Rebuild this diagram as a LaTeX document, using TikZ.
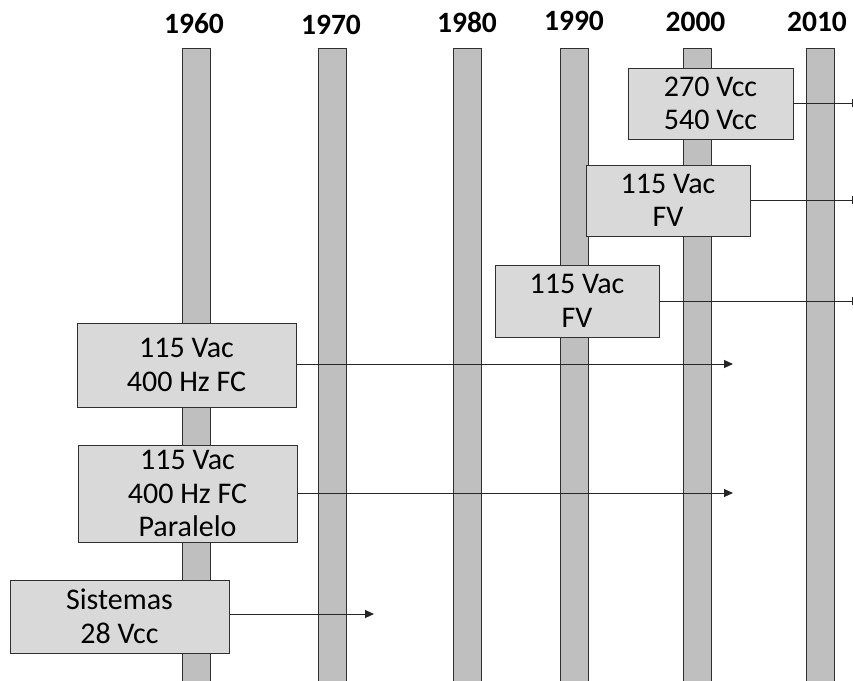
\documentclass[tikz,border=0pt]{standalone}
\usepackage{fontspec}
\setmainfont{Carlito}
\usetikzlibrary{arrows.meta}
\definecolor{barfill}{HTML}{BFBFBF}
\definecolor{boxfill}{HTML}{D9D9D9}
\definecolor{edge}{HTML}{303030}
\tikzset{
  yearbar/.style={draw=edge, line width=1pt, fill=barfill, anchor=north,
    minimum width=28pt, minimum height=680pt, inner sep=0pt},
  yearlabel/.style={anchor=base, inner sep=0pt, font=\fontsize{29.5}{31}\selectfont\bfseries},
  era/.style={draw=edge, line width=1pt, fill=boxfill, inner sep=0pt, align=center,
    font=\fontsize{30}{33.5}\selectfont},
  flow/.style={draw=black!85, line width=1pt, -{Triangle[length=9pt,width=8pt]}}
}
\begin{document}
\begin{tikzpicture}[x=1pt,y=-1pt]
  \clip (0,0) rectangle (853,680);
  \fill[white] (0,0) rectangle (853,680);

  % decade columns
  \node[yearbar] (b1960) at (196.5,48) {};
  \node[yearbar] (b1970) at (332.5,48) {};
  \node[yearbar] (b1980) at (467.5,48) {};
  \node[yearbar] (b1990) at (574,48) {};
  \node[yearbar] (b2000) at (697.5,48) {};
  \node[yearbar] (b2010) at (820,48) {};

  % decade labels
  \node[yearlabel] (y1960) at (194,33) {1960};
  \node[yearlabel] (y1970) at (331,34) {1970};
  \node[yearlabel] (y1980) at (467,32) {1980};
  \node[yearlabel] (y1990) at (574,30) {1990};
  \node[yearlabel] (y2000) at (695.5,31) {2000};
  \node[yearlabel] (y2010) at (817,31) {2010};

  % power system generations
  \node[era, minimum width=165pt, minimum height=71pt] (dc) at (710.5,103.5) {270 Vcc\\540 Vcc};
  \node[era, minimum width=164pt, minimum height=71pt] (vfB) at (668,200.5) {115 Vac\\FV};
  \node[era, minimum width=164pt, minimum height=72pt] (vfA) at (577,301) {115 Vac\\FV};
  \node[era, minimum width=219pt, minimum height=84pt] (cf) at (186.5,365) {115 Vac\\400 Hz FC};
  \node[era, minimum width=219pt, minimum height=97pt] (cfp) at (187.5,493.5) {115 Vac\\400 Hz FC\\Paralelo};
  \node[era, minimum width=219pt, minimum height=73pt] (dc28) at (119.5,616.5) {Sistemas\\28 Vcc};

  % end points of the time spans
  \coordinate (eDC) at (861,103);
  \coordinate (eVFB) at (861,200);
  \coordinate (eVFA) at (861,301);
  \coordinate (eCF) at (733,364);
  \coordinate (eCFP) at (733,493);
  \coordinate (eDC28) at (374,614);

  \draw[flow] (dc.east |- eDC) -- (eDC);
  \draw[flow] (vfB.east |- eVFB) -- (eVFB);
  \draw[flow] (vfA.east |- eVFA) -- (eVFA);
  \draw[flow] (cf.east |- eCF) -- (eCF);
  \draw[flow] (cfp.east |- eCFP) -- (eCFP);
  \draw[flow] (dc28.east |- eDC28) -- (eDC28);
\end{tikzpicture}
\end{document}
